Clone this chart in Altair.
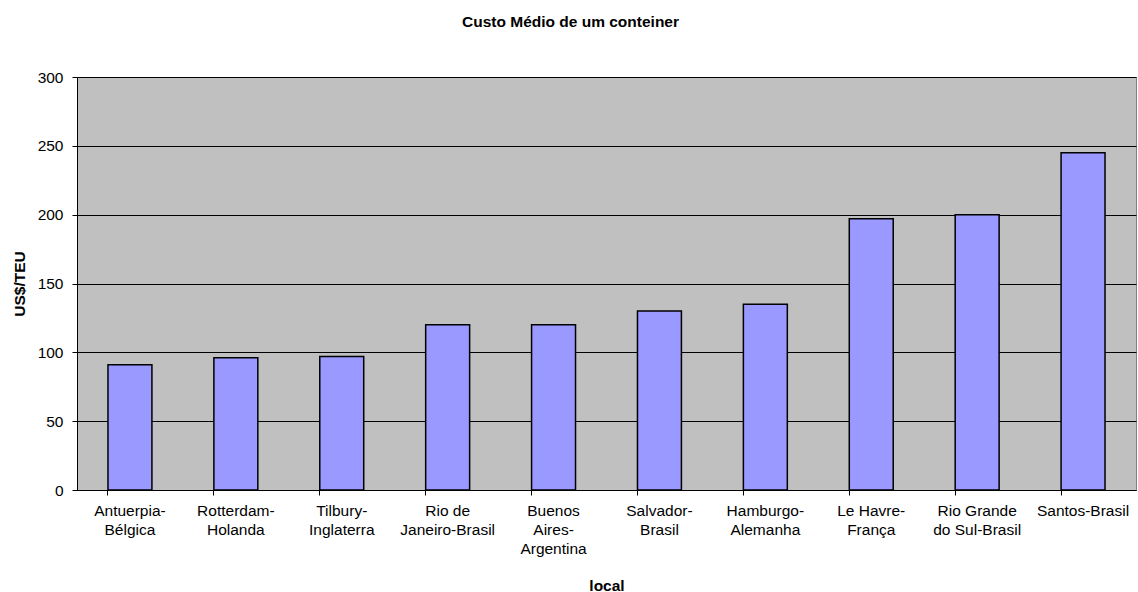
import altair as alt
import pandas as pd

locais = [
    "Antuerpia-\nBélgica",
    "Rotterdam-\nHolanda",
    "Tilbury-\nInglaterra",
    "Rio de\nJaneiro-Brasil",
    "Buenos\nAires-\nArgentina",
    "Salvador-\nBrasil",
    "Hamburgo-\nAlemanha",
    "Le Havre-\nFrança",
    "Rio Grande\ndo Sul-Brasil",
    "Santos-Brasil",
]
custos = [91, 96, 97, 120, 120, 130, 135, 197, 200, 245]

df = pd.DataFrame({"local": locais, "custo": custos})

FONT = "Liberation Sans"
FS = 15.5

bars = alt.Chart(df).mark_bar(
    color="#9999FF", stroke="#000000", strokeWidth=1.5
).encode(
    x=alt.X(
        "local:N",
        sort=locais,
        scale=alt.Scale(paddingInner=0.585, paddingOuter=0.2925),
        axis=alt.Axis(
            title="local",
            titleFont=FONT,
            titleFontSize=FS,
            titleFontWeight="bold",
            titleColor="#000000",
            titleY=88,
            labelAngle=0,
            labelFont=FONT,
            labelFontSize=FS,
            labelColor="#000000",
            labelLineHeight=19,
            labelPadding=8,
            labelExpr="split(datum.value, '\\n')",
            bandPosition=0,
            tickSize=5,
            tickColor="#000000",
            domainColor="#000000",
            grid=False,
            labelLimit=200,
        ),
    ),
    y=alt.Y(
        "custo:Q",
        scale=alt.Scale(domain=[0, 300], nice=False),
        axis=alt.Axis(
            title="US$/TEU",
            titleFont=FONT,
            titleFontSize=FS,
            titleFontWeight="bold",
            titleColor="#000000",
            titleX=-50,
            values=[0, 50, 100, 150, 200, 250, 300],
            labelFont=FONT,
            labelFontSize=FS,
            labelColor="#000000",
            labelPadding=9,
            tickSize=5,
            tickColor="#000000",
            domainColor="#000000",
            grid=True,
            gridColor="#000000",
            gridWidth=1,
        ),
    ),
)

chart = bars.properties(
    width=1059,
    height=413,
    background="#FFFFFF",
    autosize=alt.AutoSizeParams(type="none"),
    padding={"left": 77, "top": 77, "right": 2, "bottom": 102},
    title=alt.TitleParams(
        "Custo Médio de um conteiner",
        font=FONT,
        fontSize=FS,
        fontWeight="bold",
        color="#000000",
        anchor="middle",
        frame="group",
        offset=40,
        dx=-36,
    ),
).configure_view(
    fill="#C0C0C0", stroke="#808080", strokeWidth=1
)

chart.save("out.html", embed_options={"renderer": "svg", "actions": False})
